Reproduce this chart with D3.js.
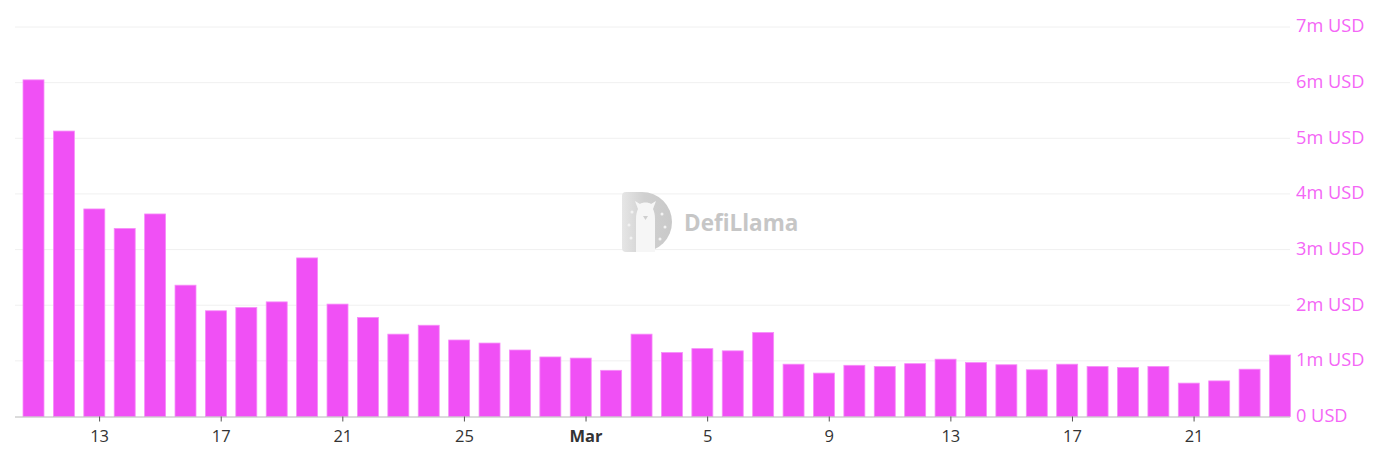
<!DOCTYPE html>
<html>
<head>
<meta charset="utf-8">
<script src="https://cdn.jsdelivr.net/npm/d3@7"></script>
<style>
  html, body { margin: 0; padding: 0; background: #fff; }
  svg { display: block; font-family: "Open Sans", "Noto Sans", sans-serif; }
</style>
</head>
<body>
<svg id="chart" width="1380" height="461"></svg>
<script>
// ---- data ----
const startDate = "2025-02-11";
const dates = [];
(function () {
  const d0 = new Date(startDate + "T00:00:00Z");
  for (let i = 0; i < 42; i++) {
    const d = new Date(d0.getTime() + i * 86400000);
    dates.push(d.toISOString().slice(0, 10));
  }
})();
const values = [
  6.05, 5.13, 3.73, 3.38, 3.64, 2.36, 1.90, 1.96, 2.06, 2.85,
  2.02, 1.78, 1.48, 1.64, 1.375, 1.32, 1.195, 1.07, 1.05, 0.83,
  1.48, 1.15, 1.22, 1.18, 1.51, 0.94, 0.78, 0.92, 0.90, 0.95,
  1.03, 0.97, 0.93, 0.84, 0.94, 0.90, 0.88, 0.90, 0.60, 0.64,
  0.85, 1.105
].map(v => v * 1e6);
const yTicks = [0, 1e6, 2e6, 3e6, 4e6, 5e6, 6e6, 7e6];
const xTickDates = ["2025-02-13", "2025-02-17", "2025-02-21", "2025-02-25", "2025-03-01",
                    "2025-03-05", "2025-03-09", "2025-03-13", "2025-03-17", "2025-03-21"];

// ---- layout ----
const plotLeft = 15, plotRight = 1290, plotTop = 27, plotBottom = 416.5;
const svg = d3.select("#chart");

const x = d3.scaleBand().domain(dates).range([18.3, 1295.2]).paddingInner(0.31).paddingOuter(0.155);
const y = d3.scaleLinear().domain([0, 7e6]).range([plotBottom, plotTop]);
const tickShift = 5.3; // axis ticks sit slightly right of bar centres

// gridlines
svg.append("g").selectAll("line").data(yTicks.filter(t => t > 0)).join("line")
  .attr("x1", plotLeft).attr("x2", plotRight)
  .attr("y1", d => y(d)).attr("y2", d => y(d))
  .attr("stroke", "#f0f0f0").attr("stroke-width", 1);

// watermark
const defs = svg.append("defs");
const lg = defs.append("linearGradient").attr("id", "wmg").attr("x1", "0").attr("x2", "1");
lg.append("stop").attr("offset", "0").attr("stop-color", "#e6e6e6");
lg.append("stop").attr("offset", "0.45").attr("stop-color", "#d0d0d0");
lg.append("stop").attr("offset", "1").attr("stop-color", "#c9c9c9");
const wm = svg.append("g").attr("transform", "translate(622,192)");
wm.append("path")
  .attr("d", "M4,0 H20 A30,30 0 0 1 20,60 H4 Q0,60 0,56 V4 Q0,0 4,0 Z")
  .attr("fill", "url(#wmg)");
wm.append("path")
  .attr("d", "M14,60 V27 C14,22 15,19 16,17 L13,9 L18,12 C20,10 27,10 29,12 L34,9 L31,17 C32,19 33,22 33,27 V60 Z")
  .attr("fill", "#f6f6f6");
wm.append("path").attr("d", "M21,24 L26,24 L23.5,28 Z").attr("fill", "#cfcfcf");
[[7,33],[10,20],[40,22],[43,35],[38,47],[9,46]].forEach(p => {
  wm.append("circle").attr("cx", p[0]).attr("cy", p[1]).attr("r", 1.5).attr("fill", "#f2f2f2");
});
svg.append("text").attr("x", 684).attr("y", 231)
  .attr("font-size", 22.5).attr("font-weight", 700)
  .attr("fill", "#c6c6c6").text("DefiLlama");

// bars
svg.append("g").selectAll("rect").data(dates).join("rect")
  .attr("x", d => x(d))
  .attr("width", x.bandwidth())
  .attr("y", (d, i) => y(values[i]))
  .attr("height", (d, i) => y(0) - y(values[i]))
  .attr("fill", "#f050f5")
  .attr("stroke", "#f78ef9")
  .attr("stroke-width", 0.8);

// x axis
const xAxis = d3.axisBottom(x)
  .tickValues(xTickDates)
  .tickSize(5)
  .tickPadding(9)
  .tickFormat(d => d.endsWith("-01") ? "Mar" : String(+d.slice(8)));
const gx = svg.append("g").attr("transform", `translate(0,${plotBottom})`).call(xAxis);
gx.select(".domain").attr("stroke", "#b8b8b8").attr("d", `M${plotLeft},0.5H${plotRight}`);
gx.selectAll(".tick").attr("transform", d => `translate(${x(d) + x.bandwidth() / 2 + tickShift},0)`);
gx.selectAll(".tick line").attr("stroke", "#555");
gx.selectAll(".tick text")
  .attr("fill", "#333").attr("font-size", 16.5)
  .attr("font-family", "\"Open Sans\", sans-serif")
  .attr("font-weight", d => d.endsWith("-01") ? 700 : 400);

// y labels
svg.append("g").selectAll("text").data(yTicks).join("text")
  .attr("x", 1296)
  .attr("y", d => y(d))
  .attr("dy", "0.3em")
  .attr("font-size", 18.2)
  .attr("fill", "#f466f6")
  .text(d => (d === 0 ? "0" : (d / 1e6) + "m") + " USD");
</script>
</body>
</html>
